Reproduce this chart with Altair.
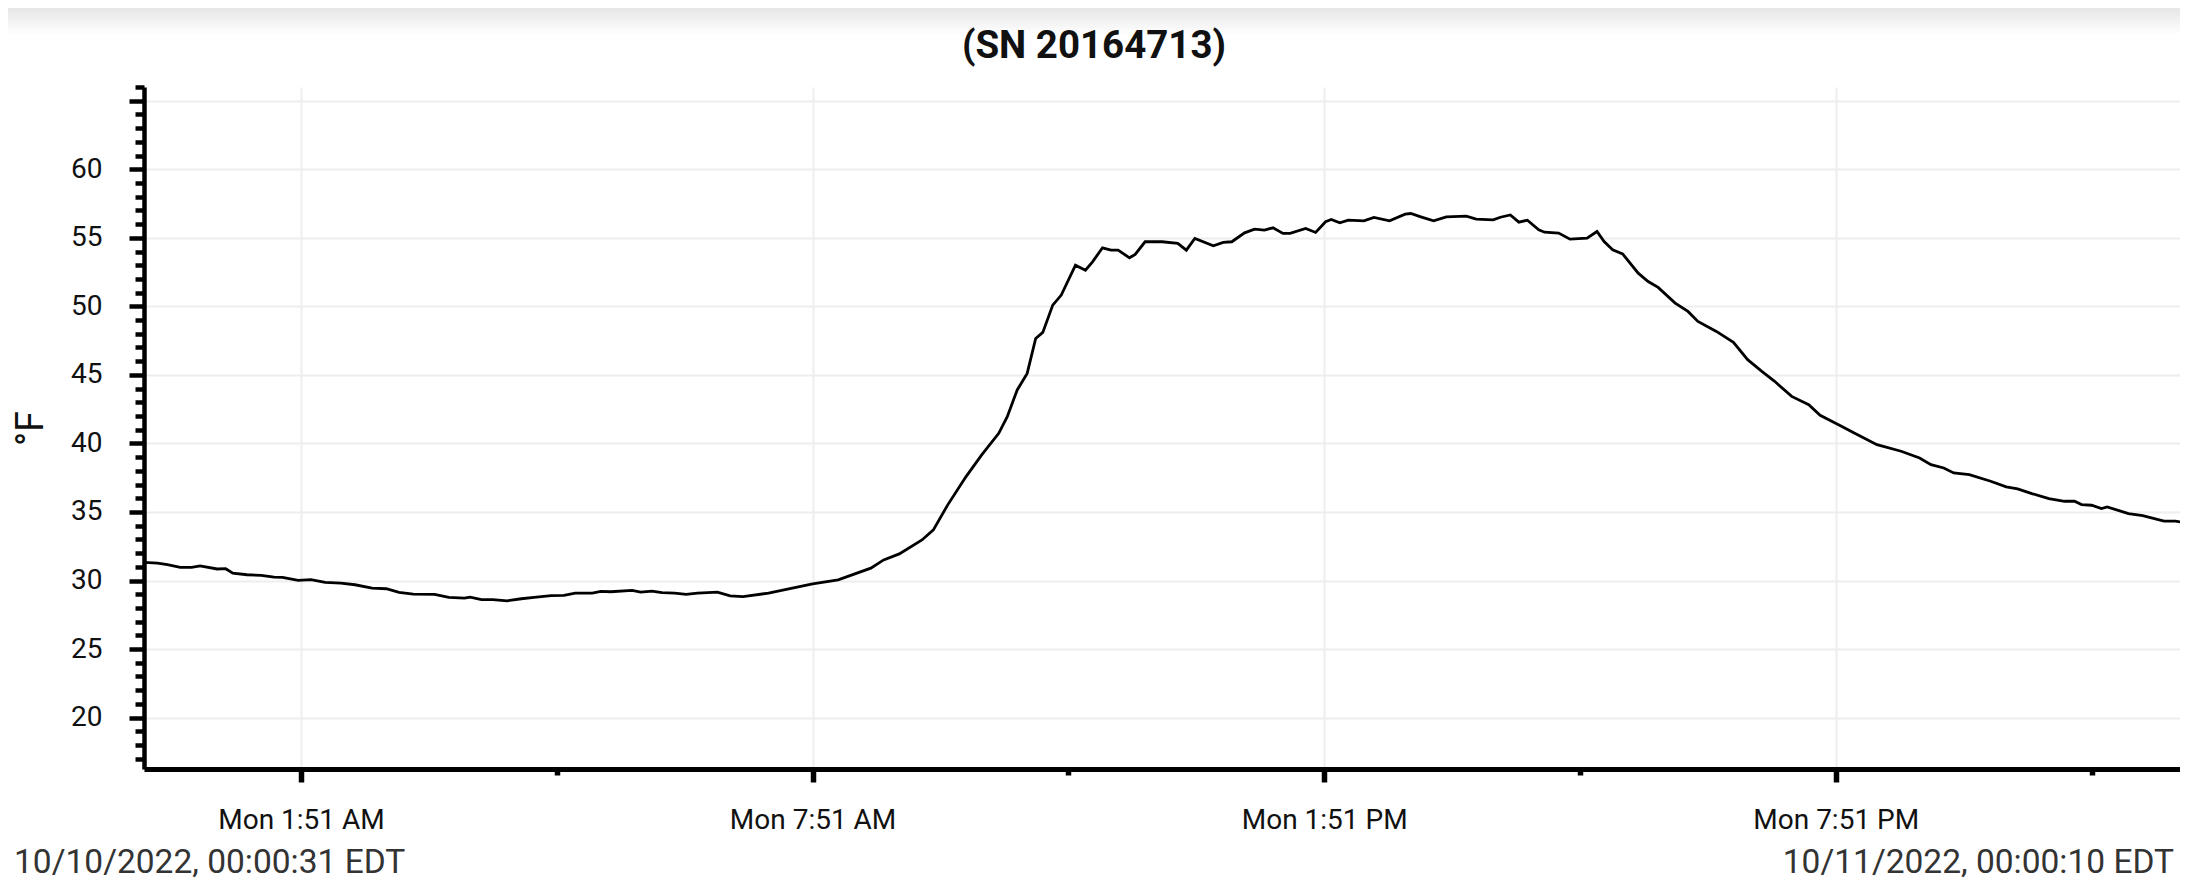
import altair as alt
import pandas as pd

# ---- data ----
times = [
    "2022-10-10T00:00:31", "2022-10-10T00:10", "2022-10-10T00:17", "2022-10-10T00:26",
    "2022-10-10T00:34", "2022-10-10T00:40", "2022-10-10T00:52", "2022-10-10T00:58",
    "2022-10-10T01:03", "2022-10-10T01:13", "2022-10-10T01:23", "2022-10-10T01:32",
    "2022-10-10T01:38", "2022-10-10T01:49", "2022-10-10T01:58", "2022-10-10T02:08",
    "2022-10-10T02:19", "2022-10-10T02:29", "2022-10-10T02:41", "2022-10-10T02:51",
    "2022-10-10T03:00", "2022-10-10T03:10", "2022-10-10T03:25", "2022-10-10T03:35",
    "2022-10-10T03:46", "2022-10-10T03:50", "2022-10-10T03:58", "2022-10-10T04:06",
    "2022-10-10T04:16", "2022-10-10T04:26", "2022-10-10T04:35", "2022-10-10T04:47",
    "2022-10-10T04:56", "2022-10-10T05:04", "2022-10-10T05:16", "2022-10-10T05:22",
    "2022-10-10T05:29", "2022-10-10T05:44", "2022-10-10T05:50", "2022-10-10T05:58",
    "2022-10-10T06:05", "2022-10-10T06:14", "2022-10-10T06:22", "2022-10-10T06:30",
    "2022-10-10T06:44", "2022-10-10T06:53", "2022-10-10T07:02", "2022-10-10T07:20",
    "2022-10-10T07:51", "2022-10-10T08:09", "2022-10-10T08:32", "2022-10-10T08:41",
    "2022-10-10T08:52", "2022-10-10T09:08", "2022-10-10T09:16", "2022-10-10T09:26",
    "2022-10-10T09:39", "2022-10-10T09:50", "2022-10-10T10:02", "2022-10-10T10:08",
    "2022-10-10T10:15", "2022-10-10T10:22", "2022-10-10T10:28", "2022-10-10T10:33",
    "2022-10-10T10:40", "2022-10-10T10:46", "2022-10-10T10:56", "2022-10-10T11:03",
    "2022-10-10T11:08", "2022-10-10T11:15", "2022-10-10T11:21", "2022-10-10T11:26",
    "2022-10-10T11:34", "2022-10-10T11:38", "2022-10-10T11:45", "2022-10-10T11:57",
    "2022-10-10T12:08", "2022-10-10T12:14", "2022-10-10T12:20", "2022-10-10T12:33",
    "2022-10-10T12:40", "2022-10-10T12:46", "2022-10-10T12:55", "2022-10-10T13:02",
    "2022-10-10T13:09", "2022-10-10T13:15", "2022-10-10T13:22", "2022-10-10T13:27",
    "2022-10-10T13:38", "2022-10-10T13:45", "2022-10-10T13:52", "2022-10-10T13:56",
    "2022-10-10T14:02", "2022-10-10T14:08", "2022-10-10T14:19", "2022-10-10T14:26",
    "2022-10-10T14:37", "2022-10-10T14:48", "2022-10-10T14:52", "2022-10-10T14:59",
    "2022-10-10T15:08", "2022-10-10T15:17", "2022-10-10T15:31", "2022-10-10T15:38",
    "2022-10-10T15:50", "2022-10-10T15:55", "2022-10-10T16:02", "2022-10-10T16:08",
    "2022-10-10T16:14", "2022-10-10T16:22", "2022-10-10T16:26", "2022-10-10T16:36",
    "2022-10-10T16:44", "2022-10-10T16:56", "2022-10-10T17:03", "2022-10-10T17:08",
    "2022-10-10T17:14", "2022-10-10T17:21", "2022-10-10T17:32", "2022-10-10T17:39",
    "2022-10-10T17:46", "2022-10-10T17:58", "2022-10-10T18:07", "2022-10-10T18:14",
    "2022-10-10T18:27", "2022-10-10T18:39", "2022-10-10T18:49", "2022-10-10T18:59",
    "2022-10-10T19:08", "2022-10-10T19:20", "2022-10-10T19:32", "2022-10-10T19:40",
    "2022-10-10T19:55", "2022-10-10T20:04", "2022-10-10T20:20", "2022-10-10T20:37",
    "2022-10-10T20:50", "2022-10-10T20:58", "2022-10-10T21:07", "2022-10-10T21:14",
    "2022-10-10T21:25", "2022-10-10T21:40", "2022-10-10T21:51", "2022-10-10T21:59",
    "2022-10-10T22:09", "2022-10-10T22:21", "2022-10-10T22:32", "2022-10-10T22:39",
    "2022-10-10T22:44", "2022-10-10T22:51", "2022-10-10T22:58", "2022-10-10T23:02",
    "2022-10-10T23:17", "2022-10-10T23:27", "2022-10-10T23:42", "2022-10-10T23:50",
    "2022-10-10T23:58", "2022-10-11T00:00:10",
]
temps_f = [
    31.32, 31.27, 31.15, 30.96, 30.96, 31.06, 30.84, 30.86,
    30.54, 30.42, 30.37, 30.25, 30.23, 30.01, 30.06, 29.86,
    29.81, 29.69, 29.45, 29.40, 29.13, 29.01, 28.99, 28.77,
    28.72, 28.79, 28.60, 28.60, 28.52, 28.67, 28.77, 28.89,
    28.91, 29.08, 29.08, 29.20, 29.18, 29.28, 29.16, 29.23,
    29.11, 29.08, 28.99, 29.08, 29.15, 28.88, 28.83, 29.08,
    29.76, 30.05, 30.90, 31.50, 31.94, 32.96, 33.69, 35.50,
    37.58, 39.16, 40.74, 41.95, 43.90, 45.11, 47.66, 48.10,
    50.09, 50.82, 53.00, 52.64, 53.25, 54.27, 54.10, 54.10,
    53.54, 53.79, 54.71, 54.71, 54.59, 54.10, 54.95, 54.42,
    54.66, 54.71, 55.36, 55.63, 55.56, 55.73, 55.32, 55.32,
    55.68, 55.39, 56.17, 56.34, 56.09, 56.29, 56.24, 56.48,
    56.24, 56.72, 56.77, 56.53, 56.24, 56.53, 56.58, 56.36,
    56.31, 56.50, 56.67, 56.14, 56.28, 55.58, 55.41, 55.34,
    54.90, 54.97, 55.46, 54.73, 54.12, 53.83, 52.42, 51.81,
    51.38, 50.24, 49.63, 48.90, 48.17, 47.37, 46.11, 45.26,
    44.53, 43.43, 42.83, 42.05, 41.25, 40.76, 39.91, 39.43,
    38.94, 38.45, 38.21, 37.85, 37.73, 37.24, 36.83, 36.68,
    36.34, 35.98, 35.78, 35.78, 35.54, 35.49, 35.25, 35.37,
    34.88, 34.74, 34.33, 34.33, 34.20, 34.18,
]

title_text = "(SN 20164713)"
y_title = "°F"
start_label = "10/10/2022, 00:00:31 EDT"
end_label = "10/11/2022, 00:00:10 EDT"
y_ticks = list(range(17, 67))
x_tick_hours = [1, 4, 7, 10, 13, 16, 19, 22]

df = pd.DataFrame({"time": times, "temp": temps_f})

FONT = "Roboto"

# visible window of the screenshot (the right edge of the screen cuts the chart)
x_domain = [
    alt.DateTime(year=2022, month=10, date=10, hours=0, minutes=0, seconds=31),
    alt.DateTime(year=2022, month=10, date=10, hours=23, minutes=53, seconds=15),
]
x_values = [alt.DateTime(year=2022, month=10, date=10, hours=h, minutes=51) for h in x_tick_hours]

major_x = "hours(datum.value) % 6 === 1"
major_y = "datum.value % 5 === 0"

x_axis = alt.Axis(
    values=x_values,
    labelExpr=f"{major_x} ? timeFormat(datum.value, '%a %-I:%M %p') : ''",
    labelFont=FONT, labelFontSize=28, labelColor="#111111",
    labelPadding=24, labelOverlap=False, labelFlush=False,
    tickSize={"condition": {"test": major_x, "value": 13}, "value": 6},
    tickWidth=5.5, tickColor="black",
    domainColor="black", domainWidth=5,
    grid=True, gridColor="#eeeeee", gridWidth=2,
    gridOpacity={"condition": {"test": major_x, "value": 1}, "value": 0},
    title=None,
)

y_axis = alt.Axis(
    values=y_ticks,
    labelExpr=f"{major_y} && datum.value <= 60 ? datum.label : ''",
    labelFont=FONT, labelFontSize=28, labelColor="#111111",
    labelPadding=27, labelOverlap=False, labelFlush=False,
    tickSize={"condition": {"test": major_y, "value": 15}, "value": 9},
    tickWidth=4.5, tickColor="black",
    domainColor="black", domainWidth=4.5,
    grid=True, gridColor="#eeeeee", gridWidth=2,
    gridOpacity={"condition": {"test": major_y, "value": 1}, "value": 0},
    title=y_title, titleFont=FONT, titleFontSize=38, titleFontWeight="normal",
    titleColor="#111111", titlePadding=20,
)

line = alt.Chart(df).mark_line(color="black", strokeWidth=2.8, clip=True).encode(
    x=alt.X("time:T", scale=alt.Scale(domain=x_domain), axis=x_axis),
    y=alt.Y("temp:Q", scale=alt.Scale(domain=[16.25, 66], nice=False, zero=False), axis=y_axis),
)

blank = alt.Data(values=[{}])

# faint shadow band at the top of the screen
shadow = alt.Chart(blank).mark_rect(
    fill=alt.Gradient(
        gradient="linear", x1=0, x2=0, y1=0, y2=1,
        stops=[alt.GradientStop(color="#e6e6e6", offset=0), alt.GradientStop(color="#ffffff", offset=1)],
    )
).encode(x=alt.value(-136), x2=alt.value(2036), y=alt.value(-79), y2=alt.value(-52))

title_mark = alt.Chart(blank).mark_text(
    text=title_text, font=FONT, fontSize=38.5, fontWeight="bold", color="#111111",
    align="center", baseline="alphabetic",
).encode(x=alt.value(950), y=alt.value(-29))

left_text = alt.Chart(blank).mark_text(
    text=start_label, font=FONT, fontSize=33.5, color="#333333", align="left", baseline="alphabetic"
).encode(x=alt.value(-130), y=alt.value(786))
right_text = alt.Chart(blank).mark_text(
    text=end_label, font=FONT, fontSize=33.5, color="#333333", align="right", baseline="alphabetic"
).encode(x=alt.value(2030), y=alt.value(786))

chart = alt.layer(shadow, line, title_mark, left_text, right_text).properties(
    width=2036,
    height=682,
    autosize=alt.AutoSizeParams(type="none"),
    padding={"left": 136, "top": 79, "right": 0, "bottom": 114},
    background="white",
).configure_view(stroke=None)

chart.save("out.html", embed_options={"renderer": "svg", "actions": False})
